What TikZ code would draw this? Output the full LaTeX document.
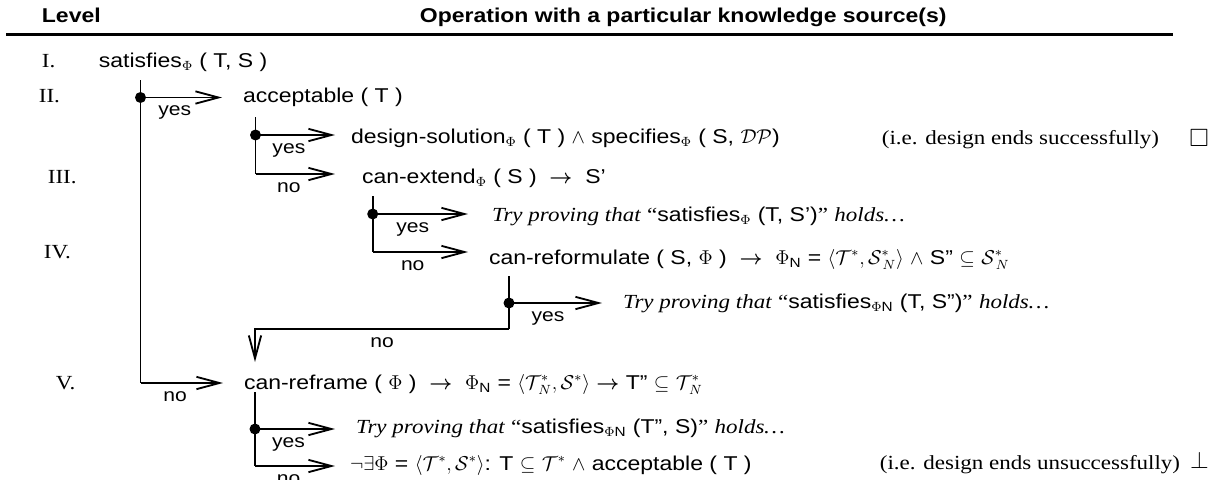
\documentclass[tikz,border=0pt]{standalone}
\usepackage{amsmath}
\usepackage{amssymb}
\usepackage{fontspec}
\setmainfont{Liberation Sans}[FakeStretch=1.15]
\newfontfamily\tnr{Liberation Serif}[FakeStretch=1.15]
\usetikzlibrary{arrows.meta, positioning}

\newcommand{\ra}{\ $\boldsymbol{\rightarrow}$\ \ }

\begin{document}
\begin{tikzpicture}[x=0.6pt, y=-0.6pt, line width=1.1pt,
  every node/.style={inner sep=0pt, font=\fontsize{12}{14}\selectfont},
  op/.style={anchor=base west, outer xsep=12.6pt},
  num/.style={anchor=base west, font=\fontsize{12}{14}\selectfont\tnr},
  lbl/.style={below=4.5pt, pos=0.42, font=\fontsize{11}{13}\selectfont},
  arr/.style={-{Straight Barb[length=13.8pt, width=7.4pt]}}]
  \useasboundingbox (0,0) rectangle (1226,479);

  % header
  \node[anchor=base west, font=\fontsize{12}{14}\selectfont\bfseries] (lvl) at (41,22) {Level};
  \node[anchor=base west, font=\fontsize{12}{14}\selectfont\bfseries] (hdr) at (419,22) {Operation with a particular knowledge source(s)};
  \draw[line width=1.8pt] (6,34) -- (1173,34);

  % levels
  \node[num] (n1) at (41,67) {I.};
  \node[num] (n2) at (38,102) {II.};
  \node[num] (n3) at (47,183) {III.};
  \node[num] (n4) at (43,258) {IV.};
  \node[num] (n5) at (55,389) {V.};

  % operations
  \node[anchor=base west] (sat) at (98,67) {satisfies\textsubscript{$\Phi$} ( T, S )};
  \node[op] (acc) at (222,102) {acceptable ( T )};
  \node[op, outer xsep=9.6pt] (sol) at (335,143) {design-solution\textsubscript{$\Phi$} ( T ) $\wedge$ specifies\textsubscript{$\Phi$} ( S, $\mathcal{DP}$)};
  \node[op, outer xsep=16.2pt] (ext) at (335,183) {can-extend\textsubscript{$\Phi$} ( S ) \ra S’};
  \node[op, outer xsep=14.4pt] (tryS) at (468,221) {{\tnr\itshape Try proving that} {\tnr “}satisfies\textsubscript{$\Phi$} (T, S’){\tnr ”} {\tnr\itshape holds\ldots}};
  \node[op] (refo) at (468,264) {can-reformulate ( S, $\Phi$ ) \ra $\Phi$\textsubscript{N} = $\langle\mathcal{T}^{*}, \mathcal{S}^{*}_{\,N}\rangle$ $\wedge$ S” $\subseteq$ $\mathcal{S}^{*}_{\,N}$};
  \node[op] (tryN) at (602,308) {{\tnr\itshape Try proving that} {\tnr “}satisfies\textsubscript{$\Phi$N} (T, S”){\tnr ”} {\tnr\itshape holds\ldots}};
  \node[op] (refr) at (223,389) {can-reframe ( $\Phi$ ) \ra $\Phi$\textsubscript{N} = $\langle\mathcal{T}^{*}_{\,N}, \mathcal{S}^{*}\rangle$ $\boldsymbol{\rightarrow}$ T” $\subseteq$ $\mathcal{T}^{*}_{\,N}$};
  \node[op] (tryR) at (335,433) {{\tnr\itshape Try proving that} {\tnr “}satisfies\textsubscript{$\Phi$N} (T”, S){\tnr ”} {\tnr\itshape holds\ldots}};
  \node[op, outer xsep=9pt] (fail) at (335,470) {$\neg\exists\Phi$ = $\langle\mathcal{T}^{*}, \mathcal{S}^{*}\rangle$: T $\subseteq$ $\mathcal{T}^{*}$ $\wedge$ acceptable ( T )};

  % outcomes
  \node[anchor=base west, font=\fontsize{12}{14}\selectfont\tnr] (ok) at (881,144) {(i.e. design ends successfully)};
  \node[anchor=base, font=\fontsize{15}{16}\selectfont] (qed) at (1199,146) {$\square$};
  \node[anchor=base west, font=\fontsize{12}{14}\selectfont\tnr] (ko) at (879,469) {(i.e. design ends unsuccessfully)};
  \node[anchor=base, font=\fontsize{14}{16}\selectfont] (bot) at (1199.5,468) {$\perp$};

  % branch points
  \coordinate (t1) at (140.5,80);  \coordinate (d1) at (140.5,97.5); \coordinate (c1) at (140.5,383);
  \coordinate (t2) at (255.5,117); \coordinate (d2) at (255.5,135);  \coordinate (c2) at (255.5,174);
  \coordinate (t3) at (372.7,196); \coordinate (d3) at (372.7,214);  \coordinate (c3) at (372.7,252);
  \coordinate (t4) at (509,276);   \coordinate (d4) at (509,303);    \coordinate (c4) at (509,329);
  \coordinate (e4) at (255,362);
  \coordinate (t5) at (255,392);   \coordinate (d5) at (255,429);    \coordinate (c5) at (255,466);

  \draw (t1) -- (c1);
  \draw[arr] (d1) -- node[lbl] {yes} (d1 -| acc.west);
  \draw[arr] (c1) -- node[lbl] {no} (c1 -| refr.west);
  \fill (d1) circle (3.3pt);

  \draw (t2) -- (c2);
  \draw[arr] (d2) -- node[lbl] {yes} (d2 -| sol.west);
  \draw[arr] (c2) -- node[lbl] {no} (c2 -| ext.west);
  \fill (d2) circle (3.3pt);

  \draw (t3) -- (c3);
  \draw[arr] (d3) -- node[lbl] {yes} (d3 -| tryS.west);
  \draw[arr] (c3) -- node[lbl] {no} (c3 -| refo.west);
  \fill (d3) circle (3.3pt);

  \draw (t4) -- (c4);
  \draw[arr] (d4) -- node[lbl] {yes} (d4 -| tryN.west);
  \draw[arr] (c4) -| node[lbl, pos=0.25] {no} (e4);
  \fill (d4) circle (3.3pt);

  \draw (t5) -- (c5);
  \draw[arr] (d5) -- node[lbl] {yes} (d5 -| tryR.west);
  \draw[arr] (c5) -- node[lbl] {no} (c5 -| fail.west);
  \fill (d5) circle (3.3pt);
\end{tikzpicture}
\end{document}
